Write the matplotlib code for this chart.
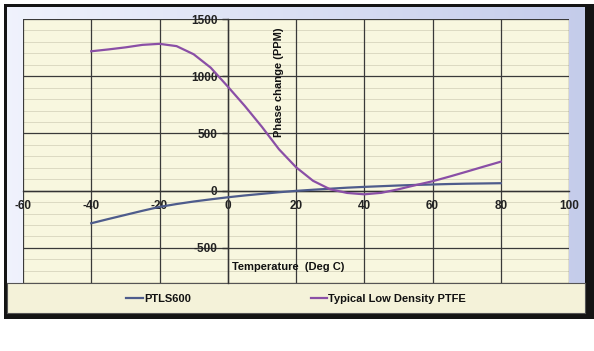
import numpy as np
import matplotlib
matplotlib.use("Agg")
import matplotlib.pyplot as plt

# values
temps = [-40, -35, -30, -25, -20, -15, -10, -5, 0, 5, 10, 15, 20,
         25, 30, 35, 40, 45, 50, 55, 60, 65, 70, 75, 80]
ptls600 = [-285, -248, -212, -176, -142, -117, -95, -76, -58, -42, -28, -14, -2,
           8, 17, 26, 33, 39, 45, 50, 54, 58, 61, 63, 65]
ptfe = [1218, 1234, 1252, 1274, 1283, 1263, 1192, 1075, 910, 740, 558, 362, 205,
        86, 12, -20, -32, -19, 12, 48, 82, 123, 166, 210, 253]

x_ticks = [-60, -40, -20, 0, 20, 40, 60, 80, 100]
y_ticks = [-500, 0, 500, 1000, 1500]
y_minor = np.arange(-800, 1500, 100)

W, H = 594, 351
plt.rcParams['font.family'] = ['Liberation Sans', 'DejaVu Sans']
plt.rcParams['axes.unicode_minus'] = False

fig = plt.figure(figsize=(W / 100, H / 100), dpi=100, facecolor='white')


def fr(x0, y0, x1, y1):
    # pixel box -> figure fraction rect
    return [x0 / W, 1 - y1 / H, (x1 - x0) / W, (y1 - y0) / H]


# outer black frame
frame = fig.add_axes(fr(4, 4, 594, 319), zorder=0)
frame.set_facecolor('#141414')
frame.set_xticks([])
frame.set_yticks([])
for s in frame.spines.values():
    s.set_visible(False)

# lavender gradient panel
bg = fig.add_axes(fr(7, 7, 585, 313), zorder=0.5)
grad = np.linspace(0, 1, 256).reshape(1, -1)
c0 = np.array([0.94, 0.95, 0.99])
c1 = np.array([0.77, 0.80, 0.92])
img = c0[None, None, :] * (1 - grad[..., None]) + c1[None, None, :] * grad[..., None]
bg.imshow(img, aspect='auto', extent=[0, 1, 0, 1])
bg.axis('off')

# legend strip
lg = fig.add_axes(fr(7, 283, 585, 313), zorder=1)
lg.set_facecolor('#F4F2D9')
lg.set_xticks([])
lg.set_yticks([])
for s in lg.spines.values():
    s.set_color('#555555')
    s.set_linewidth(0.8)

ax = fig.add_axes(fr(23, 19, 569, 283), zorder=2)
ax.set_facecolor('#F8F7DF')
ax.set_xlim(-60, 100)
ax.set_ylim(-807, 1500)

# light minor rules every 100
ax.hlines(y_minor, -60, 100, color='#DCDAC2', lw=0.7, zorder=0.2)

l1, = ax.plot(temps, ptls600, color='#4E5C8C', lw=1.6, label='PTLS600', zorder=4)
l2, = ax.plot(temps, ptfe, color='#8A4FA6', lw=1.6, label='Typical Low Density PTFE', zorder=4)

ax.set_xticks(x_ticks)
ax.set_yticks(y_ticks)
ax.set_axisbelow(True)
ax.grid(which='major', color='#3A3A3A', lw=0.9)
for gl, v in zip(ax.get_xgridlines(), x_ticks):
    if v in (-60, 100):
        gl.set_visible(False)
for gl, v in zip(ax.get_ygridlines(), y_ticks):
    if v == 1500:
        gl.set_visible(False)

ax.spines['left'].set_position(('data', 0))
ax.spines['bottom'].set_position(('data', 0))
ax.spines['top'].set_visible(False)
ax.spines['right'].set_visible(False)
for s in ('left', 'bottom'):
    ax.spines[s].set_color('#333333')
    ax.spines[s].set_linewidth(1.0)

ax.tick_params(axis='x', length=0, pad=6.5, labelsize=8.5, labelcolor='#222222')
ax.tick_params(axis='y', direction='out', length=4, width=1, color='#333333',
               pad=3.5, labelsize=8.5, labelcolor='#222222')
for t in ax.get_xticklabels() + ax.get_yticklabels():
    t.set_fontweight('bold')

fig.text(279 / W, 1 - 82 / H, 'Phase change (PPM)', rotation=90, ha='center', va='center',
         fontsize=8, fontweight='bold', color='#111111', zorder=5)
fig.text(232 / W, 1 - 267 / H, 'Temperature  (Deg C)', ha='left', va='center',
         fontsize=8, fontweight='bold', color='#111111', zorder=5)

leg = lg.legend(handles=[l1, l2], loc='center left', bbox_to_anchor=(126 / W, 1 - 299 / H),
                bbox_transform=fig.transFigure,
                ncol=2, frameon=False, fontsize=8, handlelength=1.5, handletextpad=0.1,
                columnspacing=10.8, borderaxespad=0, borderpad=0)
for t in leg.get_texts():
    t.set_fontweight('bold')
    t.set_color('#111111')

fig.savefig('out.png', dpi=100, facecolor='white')
